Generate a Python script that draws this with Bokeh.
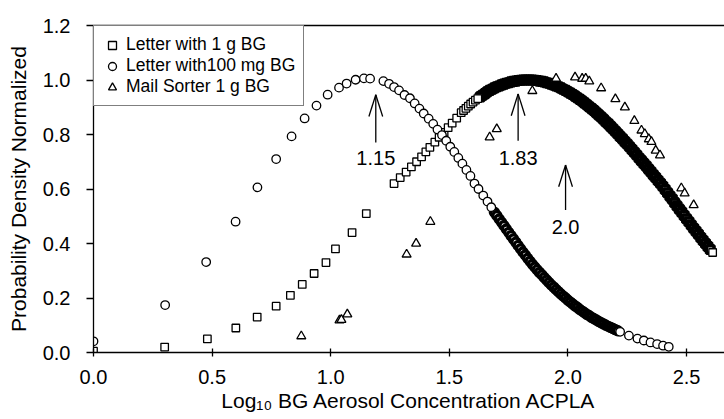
from bokeh.plotting import figure
from bokeh.models import (ColumnDataSource, Range1d, FixedTicker, LinearAxis,
                          Legend, LegendItem, PrintfTickFormatter)
from bokeh.core.properties import value
from bokeh.embed import file_html
from bokeh.resources import INLINE

# ---------------- data ----------------
x_ticks = [0.0, 0.5, 1.0, 1.5, 2.0, 2.5]
y_ticks = [0.0, 0.2, 0.4, 0.6, 0.8, 1.0, 1.2]

letter_1g_x = [0.0, 0.30, 0.48, 0.60, 0.69, 0.77, 0.83, 0.88, 0.93, 0.98, 1.02, 1.09, 1.15,
               1.267, 1.293, 1.318, 1.340, 1.362, 1.383, 1.401, 1.418, 1.439, 1.457, 1.478,
               1.495, 1.512, 1.531,
               1.55, 1.56, 1.57, 1.58, 1.59, 1.60, 1.61, 1.62, 1.63, 1.64, 1.65, 1.66, 1.67,
               1.68, 1.69, 1.70, 1.71, 1.72, 1.73, 1.74, 1.75, 1.76, 1.77, 1.78, 1.79, 1.80,
               1.81, 1.82, 1.83, 1.84, 1.85, 1.86, 1.87, 1.88, 1.89, 1.90, 1.91, 1.92, 1.93,
               1.94, 1.95, 1.96, 1.97, 1.98, 1.99, 2.00, 2.01, 2.02, 2.03, 2.04, 2.05, 2.06,
               2.07, 2.08, 2.09, 2.10, 2.11, 2.12, 2.13, 2.14, 2.15, 2.16, 2.17, 2.18, 2.19,
               2.20, 2.21, 2.22, 2.23, 2.24, 2.25, 2.26, 2.27, 2.28, 2.29, 2.30, 2.31, 2.32,
               2.33, 2.34, 2.35, 2.36, 2.37, 2.38, 2.39, 2.40, 2.41, 2.42, 2.43, 2.44, 2.45,
               2.46, 2.47, 2.48, 2.49, 2.50, 2.51, 2.52, 2.53, 2.54, 2.55, 2.56, 2.57, 2.58,
               2.59, 2.60, 2.61]
letter_1g_y = [0.005, 0.02, 0.05, 0.09, 0.13, 0.17, 0.21, 0.25, 0.29, 0.33, 0.38, 0.44, 0.51,
               0.620, 0.642, 0.662, 0.681, 0.700, 0.718, 0.736, 0.753, 0.772, 0.790, 0.808,
               0.825, 0.842, 0.860,
               0.880, 0.888, 0.896, 0.904, 0.912, 0.919, 0.926, 0.932, 0.938, 0.944, 0.950,
               0.957, 0.962, 0.966, 0.971, 0.975, 0.978, 0.982, 0.985, 0.988, 0.990, 0.993,
               0.995, 0.996, 0.998, 0.999, 1.000, 1.000, 1.000, 1.000, 1.000, 0.999, 0.998,
               0.996, 0.995, 0.993, 0.990, 0.988, 0.985, 0.982, 0.978, 0.975, 0.971, 0.966,
               0.962, 0.957, 0.952, 0.947, 0.941, 0.935, 0.929, 0.923, 0.916, 0.909, 0.902,
               0.895, 0.888, 0.880, 0.872, 0.864, 0.856, 0.847, 0.839, 0.830, 0.821, 0.812,
               0.803, 0.793, 0.784, 0.774, 0.765, 0.755, 0.745, 0.735, 0.725, 0.714, 0.704,
               0.694, 0.684, 0.673, 0.663, 0.652, 0.642, 0.631, 0.621, 0.610, 0.598, 0.586,
               0.574, 0.563, 0.550, 0.538, 0.526, 0.515, 0.503, 0.491, 0.480, 0.468, 0.456,
               0.445, 0.434, 0.422, 0.411, 0.400, 0.389, 0.378, 0.367]

letter_100mg_x = [0.0, 0.302, 0.475, 0.599, 0.691, 0.770, 0.835, 0.890, 0.940, 0.987, 1.035,
                  1.067, 1.105, 1.140, 1.166, 1.222, 1.246, 1.267, 1.288, 1.311, 1.334, 1.354,
                  1.374, 1.392, 1.413, 1.432, 1.450, 1.469, 1.487, 1.504, 1.521, 1.538, 1.555,
                  1.572, 1.589, 1.606, 1.623, 1.643, 1.661, 1.677,
                  1.69, 1.70, 1.71, 1.72, 1.73, 1.74, 1.75, 1.76, 1.77, 1.78, 1.79, 1.80, 1.81,
                  1.82, 1.83, 1.84, 1.85, 1.86, 1.87, 1.88, 1.89, 1.90, 1.91, 1.92, 1.93, 1.94,
                  1.95, 1.96, 1.97, 1.98, 1.99, 2.00, 2.01, 2.02, 2.03, 2.04, 2.05, 2.06, 2.07,
                  2.08, 2.09, 2.10, 2.11, 2.12, 2.13, 2.14, 2.15, 2.16, 2.17, 2.18, 2.19, 2.20,
                  2.21, 2.22,
                  2.257, 2.293, 2.320, 2.348, 2.376, 2.401, 2.425]
letter_100mg_y = [0.041, 0.174, 0.332, 0.480, 0.606, 0.710, 0.793, 0.859, 0.906, 0.946, 0.972,
                  0.987, 1.001, 1.006, 1.005, 0.996, 0.986, 0.974, 0.962, 0.945, 0.933, 0.914,
                  0.895, 0.877, 0.858, 0.839, 0.818, 0.798, 0.777, 0.755, 0.736, 0.714, 0.693,
                  0.670, 0.648, 0.620, 0.600, 0.576, 0.554, 0.533,
                  0.515, 0.503, 0.490, 0.478, 0.466, 0.453, 0.441, 0.429, 0.417, 0.405, 0.393,
                  0.381, 0.369, 0.358, 0.346, 0.335, 0.324, 0.314, 0.304, 0.294, 0.285, 0.275,
                  0.266, 0.257, 0.248, 0.240, 0.231, 0.223, 0.215, 0.207, 0.200, 0.192, 0.185,
                  0.178, 0.171, 0.165, 0.158, 0.152, 0.146, 0.140, 0.135, 0.129, 0.124, 0.119,
                  0.114, 0.109, 0.105, 0.100, 0.096, 0.092, 0.088, 0.084, 0.080, 0.076,
                  0.062, 0.051, 0.044, 0.037, 0.031, 0.025, 0.021]

mail_sorter_x = [0.876, 1.037, 1.045, 1.070, 1.320, 1.360, 1.420, 1.670, 1.700, 1.850, 1.950,
                 2.030, 2.060, 2.075, 2.090, 2.140, 2.200, 2.240, 2.280, 2.310, 2.324, 2.341,
                 2.352, 2.370, 2.388, 2.478, 2.492, 2.530]
mail_sorter_y = [0.060, 0.118, 0.120, 0.140, 0.360, 0.400, 0.480, 0.790, 0.820, 0.960, 1.005,
                 1.010, 1.005, 1.005, 0.995, 0.970, 0.930, 0.900, 0.850, 0.815, 0.802, 0.783,
                 0.773, 0.741, 0.724, 0.603, 0.584, 0.541]

series_labels = ["Letter with 1 g BG", "Letter with100 mg BG", "Mail Sorter 1 g BG"]

arrow_x = [1.19, 1.79, 1.99]
arrow_tip = [0.946, 0.949, 0.688]
arrow_tail = [0.771, 0.777, 0.523]
arrow_label = ["1.15", "1.83", "2.0"]
arrow_label_y = [0.713, 0.714, 0.461]

x_title = "Log\u2081\u2080 BG Aerosol Concentration ACPLA"
y_title = "Probability Density Normalized"

# ---------------- figure ----------------
FONT = "Liberation Sans"
LW = 1.3

p = figure(width=724, height=419, output_backend="svg", toolbar_location=None,
           x_range=Range1d(0, 2.66), y_range=Range1d(0, 1.2),
           min_border_left=93, min_border_right=0, min_border_top=25, min_border_bottom=67)
p.outline_line_color = None
p.xgrid.visible = False
p.ygrid.visible = False
p.background_fill_color = "white"
p.border_fill_color = "white"

xa = p.xaxis[0]
xa.ticker = FixedTicker(ticks=x_ticks)
xa.formatter = PrintfTickFormatter(format="%.1f")
xa.axis_label = x_title
xa.axis_label_text_font = FONT
xa.axis_label_text_font_size = "21px"
xa.axis_label_text_font_style = "normal"
xa.axis_label_text_color = "black"
xa.axis_label_standoff = 2
xa.major_label_text_font = FONT
xa.major_label_text_font_size = "20px"
xa.major_label_text_color = "black"
xa.major_label_standoff = 13
xa.major_tick_in = 4
xa.major_tick_out = 4
xa.minor_tick_line_color = None
xa.axis_line_width = LW
xa.major_tick_line_width = LW
xa.axis_line_color = "black"
xa.major_tick_line_color = "black"

ya = p.yaxis[0]
ya.ticker = FixedTicker(ticks=y_ticks)
ya.formatter = PrintfTickFormatter(format="%.1f")
ya.axis_label = y_title
ya.axis_label_text_font = FONT
ya.axis_label_text_font_size = "21px"
ya.axis_label_text_font_style = "normal"
ya.axis_label_text_color = "black"
ya.axis_label_standoff = 10
ya.major_label_text_font = FONT
ya.major_label_text_font_size = "20px"
ya.major_label_text_color = "black"
ya.major_label_standoff = 16
ya.major_tick_in = 0
ya.major_tick_out = 7
ya.minor_tick_line_color = None
ya.axis_line_width = LW
ya.major_tick_line_width = LW
ya.axis_line_color = "black"
ya.major_tick_line_color = "black"

top = LinearAxis(ticker=FixedTicker(ticks=[]), axis_line_width=LW, axis_line_color="black",
                 major_tick_in=0, major_tick_out=0, minor_tick_in=0, minor_tick_out=0,
                 major_label_text_font_size="0px", major_label_standoff=0)
p.add_layout(top, "above")


def split(xs, ys, lo, hi):
    sx, sy, dx, dy = [], [], [], []
    for x, y in zip(xs, ys):
        if lo <= x <= hi:
            dx.append(x); dy.append(y)
        else:
            sx.append(x); sy.append(y)
    return (ColumnDataSource(dict(x=sx, y=sy)), ColumnDataSource(dict(x=dx, y=dy)))


# closely packed stretches of each curve overlap into a solid band, drawn with a heavier outline
sq_s, sq_d = split(letter_1g_x, letter_1g_y, 1.625, 2.605)
ci_s, ci_d = split(letter_100mg_x, letter_100mg_y, 1.685, 2.215)
tri = ColumnDataSource(dict(x=mail_sorter_x, y=mail_sorter_y))

common = dict(fill_color="white", line_color="black")
p.scatter("x", "y", source=sq_d, marker="square", size=7.5, line_width=3.6, **common)
r_sq = p.scatter("x", "y", source=sq_s, marker="square", size=7.5, line_width=LW, **common)
p.scatter("x", "y", source=ci_d, marker="circle", size=8.0, line_width=3.4, **common)
r_ci = p.scatter("x", "y", source=ci_s, marker="circle", size=8.5, line_width=LW, **common)
r_tr = p.scatter("x", "y", source=tri, marker="triangle", size=9, line_width=LW, **common)

# arrows
hx, hy = 0.029, 0.08
p.segment(x0=arrow_x, y0=arrow_tail, x1=arrow_x, y1=arrow_tip, line_color="black", line_width=LW)
p.segment(x0=[x - hx for x in arrow_x], y0=[t - hy for t in arrow_tip], x1=arrow_x, y1=arrow_tip,
          line_color="black", line_width=LW)
p.segment(x0=[x + hx for x in arrow_x], y0=[t - hy for t in arrow_tip], x1=arrow_x, y1=arrow_tip,
          line_color="black", line_width=LW)
p.text(x=arrow_x, y=arrow_label_y, text=arrow_label, text_font=value(FONT),
       text_font_size=value("20px"), text_align="center", text_baseline="middle",
       text_color="black")

legend = Legend(items=[LegendItem(label=series_labels[0], renderers=[r_sq]),
                       LegendItem(label=series_labels[1], renderers=[r_ci]),
                       LegendItem(label=series_labels[2], renderers=[r_tr])],
                location="top_left", margin=0, padding=8, spacing=0,
                label_height=20, glyph_height=20, glyph_width=20, label_standoff=4,
                label_text_font=FONT, label_text_font_size="17.5px", label_text_color="black",
                border_line_color="black", border_line_width=LW,
                background_fill_color="white", background_fill_alpha=1.0)
p.add_layout(legend, "center")

open("out.html", "w").write(file_html(p, INLINE))
